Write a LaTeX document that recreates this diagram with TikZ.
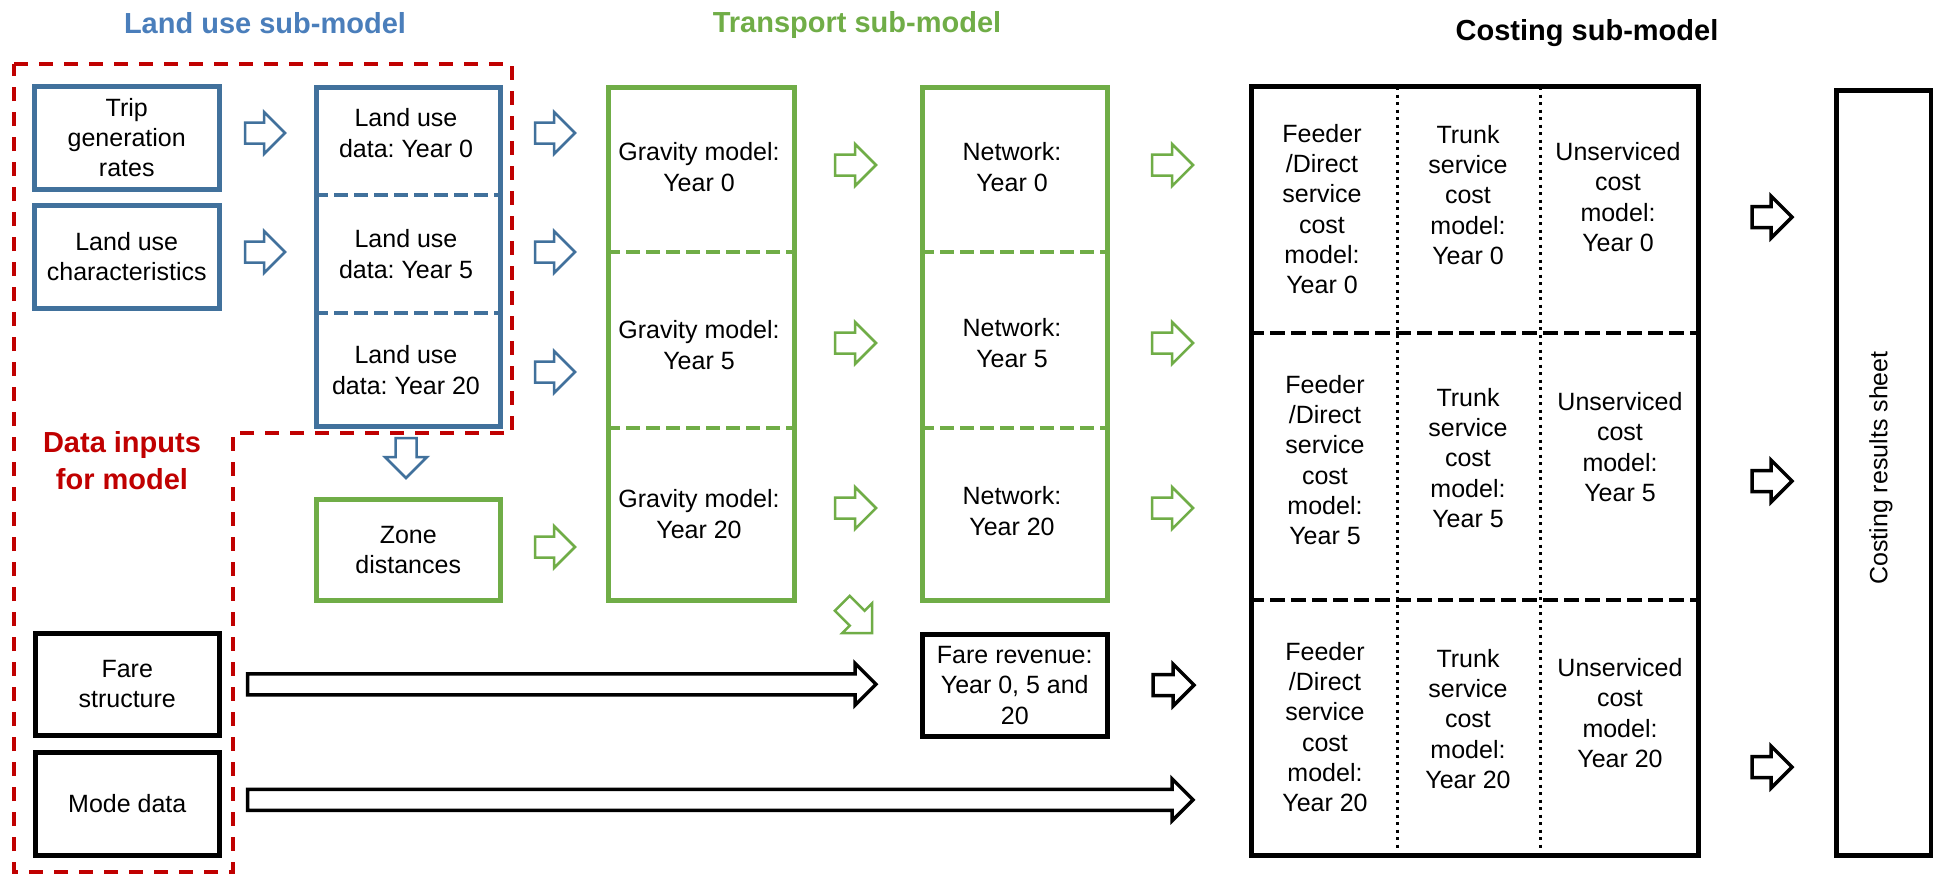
\documentclass[tikz,border=0pt]{standalone}
\usepackage{fontspec}
\setmainfont{Liberation Sans}
\usetikzlibrary{calc}
\frenchspacing
\definecolor{luBlue}{HTML}{41719C}
\definecolor{luTitle}{HTML}{4A7EBB}
\definecolor{trGreen}{HTML}{70AD47}
\definecolor{diRed}{HTML}{C00000}
\newcommand{\bodyfont}{\fontsize{25}{30.3}\selectfont}
\newcommand{\titlefont}{\fontsize{29}{35}\selectfont\bfseries}
\newcommand{\blkarrow}[3]{\draw[#1] let \p1=#2, \p2=#3 in (\x1,\y1+10.5pt) -- (\x2-21pt,\y1+10.5pt) -- (\x2-21pt,\y1+21pt) -- (\x2,\y1) -- (\x2-21pt,\y1-21pt) -- (\x2-21pt,\y1-10.5pt) -- (\x1,\y1-10.5pt) -- cycle;}
\begin{document}
\begin{tikzpicture}[x=1pt,y=-1pt,
  box/.style={draw, line width=4.5pt, inner sep=0pt, align=center, font=\bodyfont, anchor=north west},
  bluebox/.style={box, draw=luBlue},
  greenbox/.style={box, draw=trGreen},
  blackbox/.style={box, draw=black},
  txt/.style={align=center, font=\bodyfont, inner sep=0pt},
  bluearr/.style={draw=luBlue, line width=2.5pt, fill=white, line join=miter},
  greenarr/.style={draw=trGreen, line width=2.5pt, fill=white, line join=miter},
  blackarr/.style={draw=black, line width=3.5pt, fill=white, line join=miter},
  divider/.style={line width=4pt, dash pattern=on 14pt off 6pt},
  dotdiv/.style={line width=3pt, dash pattern=on 3pt off 4.5pt},
  title/.style={font=\titlefont, anchor=base, inner sep=0pt}
]
\useasboundingbox (0,0) rectangle (1933,876);
\fill[white] (0,0) rectangle (1933,876);

% titles
\node[title, text=luTitle] (t1) at (265,33) {Land use sub-model};
\node[title, text=trGreen] (t2) at (857,32) {Transport sub-model};
\node[title, text=black] (t3) at (1587,40) {Costing sub-model};

% data inputs frame
\draw[diRed, line width=4.5pt, dash pattern=on 14pt off 11pt, line join=miter]
  (14,64) -- (512,64) -- (512,433) -- (233,433) -- (233,872) -- (14,872) -- cycle;
\node[font=\fontsize{29}{37}\selectfont\bfseries, text=diRed, align=center, inner sep=0pt] (dtitle) at (122,461) {Data inputs\\for model};

% land use sub-model
\node[bluebox, minimum width=185pt, minimum height=103pt] (trip) at (32,84) {Trip\\generation\\rates};
\node[bluebox, minimum width=185pt, minimum height=103pt] (char) at (32,203) {Land use\\characteristics};
\node[bluebox, minimum width=184pt, minimum height=339pt] (lucol) at (314,85) {};
\draw[divider, luBlue] (314,195) -- (498,195);
\draw[divider, luBlue] (314,313) -- (498,313);
\node[txt] (lu1) at (406,133) {Land use\\data: Year 0};
\node[txt] (lu2) at (406,254) {Land use\\data: Year 5};
\node[txt] (lu3) at (406,370) {Land use\\data: Year 20};
\node[greenbox, minimum width=184pt, minimum height=101pt] (zone) at (314,497) {Zone\\distances};

% transport sub-model
\node[greenbox, minimum width=186pt, minimum height=513pt] (grav) at (606,85) {};
\draw[divider, trGreen] (606,252) -- (792,252);
\draw[divider, trGreen] (606,428) -- (792,428);
\node[txt] (g1) at (699,167) {Gravity model:\\Year 0};
\node[txt] (g2) at (699,345) {Gravity model:\\Year 5};
\node[txt] (g3) at (699,514) {Gravity model:\\Year 20};
\node[greenbox, minimum width=185pt, minimum height=513pt] (net) at (920,85) {};
\draw[divider, trGreen] (920,252) -- (1105,252);
\draw[divider, trGreen] (920,428) -- (1105,428);
\node[txt] (n1) at (1012,167) {Network:\\Year 0};
\node[txt] (n2) at (1012,343) {Network:\\Year 5};
\node[txt] (n3) at (1012,511) {Network:\\Year 20};
\node[blackbox, minimum width=185pt, minimum height=102pt] (farerev) at (920,632) {Fare revenue:\\Year 0, 5 and\\20};

% other inputs
\node[blackbox, minimum width=184pt, minimum height=102pt] (fare) at (33,631) {Fare\\structure};
\node[blackbox, minimum width=184pt, minimum height=103pt] (mode) at (33,750) {Mode data};

% costing sub-model
\node[blackbox, minimum width=447pt, minimum height=769pt] (cost) at (1249,84) {};
\draw[divider, black, line width=4.5pt, dash pattern=on 15pt off 6pt] (1249,333) -- (1696,333);
\draw[divider, black, line width=4.5pt, dash pattern=on 15pt off 6pt] (1249,600) -- (1696,600);
\draw[dotdiv] (1397,87) -- (1397,851);
\draw[dotdiv] (1540,87) -- (1540,851);
\node[txt] (c11) at (1322,209) {Feeder\\/Direct\\service\\cost\\model:\\Year 0};
\node[txt] (c12) at (1468,195) {Trunk\\service\\cost\\model:\\Year 0};
\node[txt] (c13) at (1618,197) {Unserviced\\cost\\model:\\Year 0};
\node[txt] (c21) at (1325,460) {Feeder\\/Direct\\service\\cost\\model:\\Year 5};
\node[txt] (c22) at (1468,458) {Trunk\\service\\cost\\model:\\Year 5};
\node[txt] (c23) at (1620,447) {Unserviced\\cost\\model:\\Year 5};
\node[txt] (c31) at (1325,727) {Feeder\\/Direct\\service\\cost\\model:\\Year 20};
\node[txt] (c32) at (1468,719) {Trunk\\service\\cost\\model:\\Year 20};
\node[txt] (c33) at (1620,713) {Unserviced\\cost\\model:\\Year 20};

\node[blackbox, minimum width=95pt, minimum height=765pt] (res) at (1834,88) {};
\node[txt, rotate=90] (resT) at (1881,468) {Costing results sheet};

% blue arrows
\blkarrow{bluearr}{(245,133)}{(285,133)}
\blkarrow{bluearr}{(245,252)}{(285,252)}
\blkarrow{bluearr}{(535,133)}{(575,133)}
\blkarrow{bluearr}{(535,252)}{(575,252)}
\blkarrow{bluearr}{(535,372)}{(575,372)}
\draw[bluearr, shift={(406,478)}, rotate=-90] (0,0) -- (-21,21) -- (-21,10.5) -- (-40,10.5) -- (-40,-10.5) -- (-21,-10.5) -- (-21,-21) -- cycle;

% green arrows
\blkarrow{greenarr}{(535,547)}{(575,547)}
\blkarrow{greenarr}{(835,165)}{(876,165)}
\blkarrow{greenarr}{(835,343)}{(876,343)}
\blkarrow{greenarr}{(835,508)}{(876,508)}
\blkarrow{greenarr}{(1152,165)}{(1193,165)}
\blkarrow{greenarr}{(1152,343)}{(1193,343)}
\blkarrow{greenarr}{(1152,508)}{(1193,508)}
\draw[greenarr, shift={(872,633)}, rotate=-45] (0,0) -- (-21,21) -- (-21,10.5) -- (-42,10.5) -- (-42,-10.5) -- (-21,-10.5) -- (-21,-21) -- cycle;

% black arrows
\blkarrow{blackarr}{(1153,685)}{(1194,685)}
\blkarrow{blackarr}{(1752,217)}{(1792,217)}
\blkarrow{blackarr}{(1752,481)}{(1792,481)}
\blkarrow{blackarr}{(1752,767)}{(1792,767)}
\blkarrow{blackarr}{($(fare.east)+(26,0)$)}{($(farerev.west)+(-44,0)$)}
\blkarrow{blackarr}{($(mode.east)+(26,-4)$)}{($(cost.west)+(-56,0)$)}
\end{tikzpicture}
\end{document}
